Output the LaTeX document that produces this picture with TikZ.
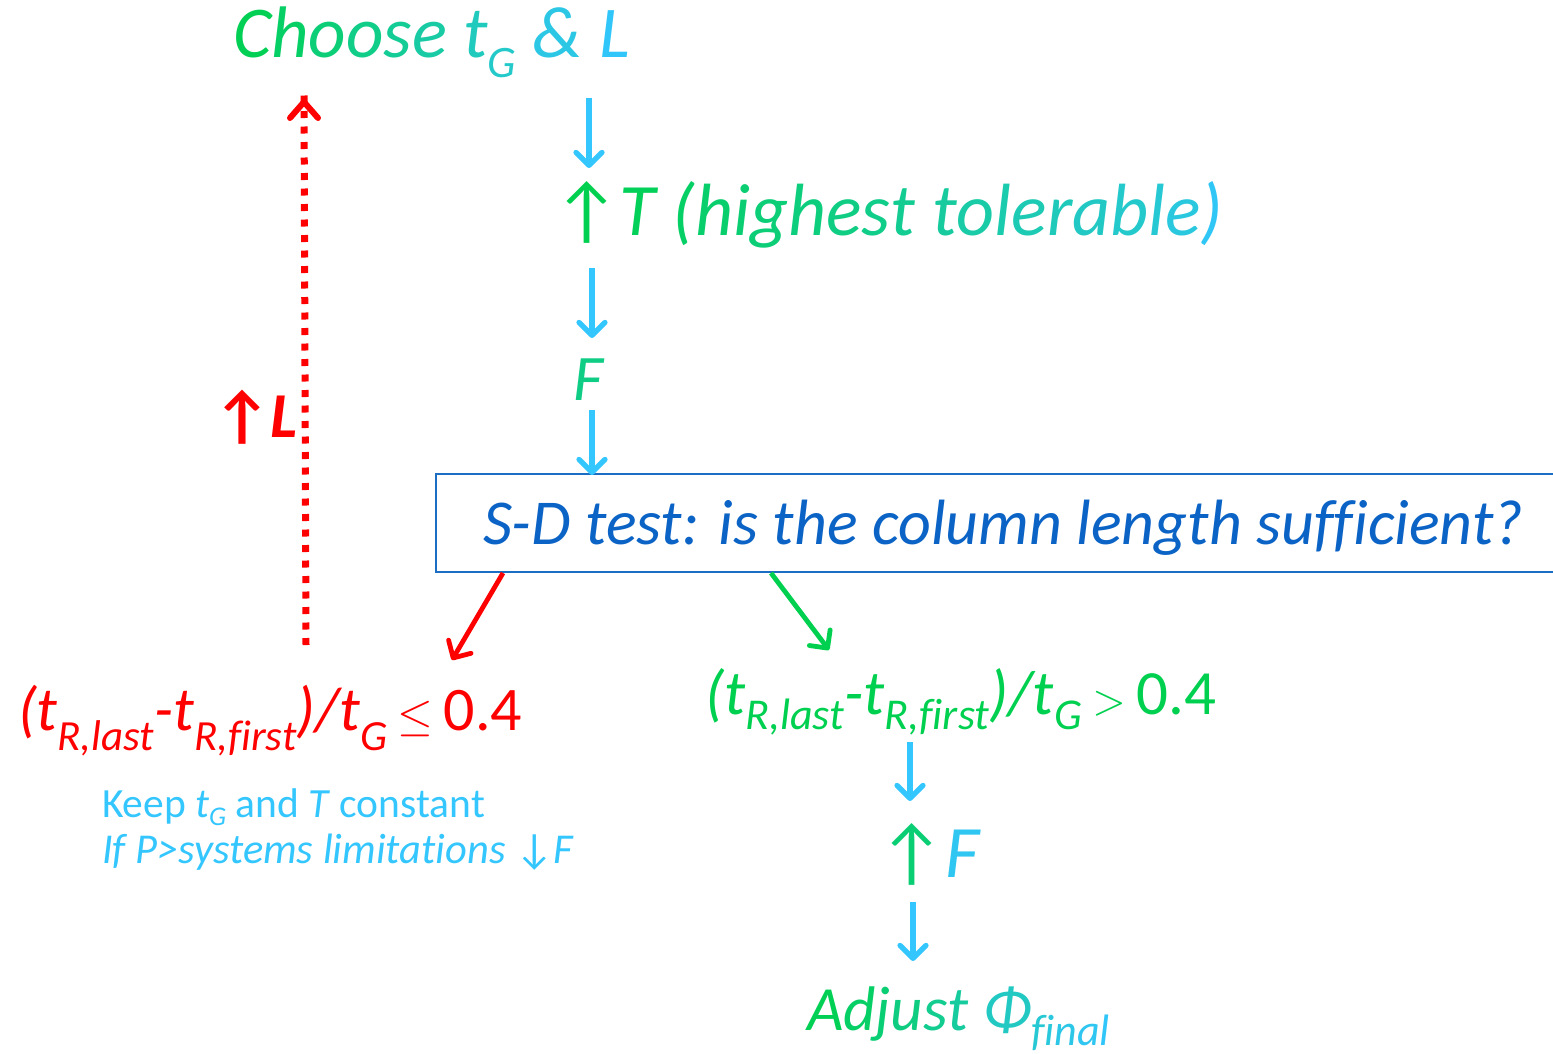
\documentclass[tikz,border=0pt]{standalone}
\usepackage{fontspec}
\setmainfont[Ligatures=NoCommon]{Carlito}
\usetikzlibrary{arrows.meta}
\definecolor{gr}{HTML}{00D050}
\definecolor{cy}{HTML}{33C6FF}
\definecolor{rd}{HTML}{FF0000}
\definecolor{bxt}{HTML}{0B63C6}
\definecolor{bxl}{HTML}{1C6DC4}
\newcommand\gq[2]{\textcolor{gr!#1!cy}{#2}}
\newcommand\subx[3]{\raisebox{-#1pt}{\fontsize{#2}{#2}\selectfont #3}}
\newcommand\fs[1]{\fontsize{#1}{#1}\selectfont}
\newcommand\uparr{{\upshape ↑}}
\newcommand\dnarr{{\upshape ↓}}
\newcommand\bigleq{\scalebox{4.6}{\fontsize{10}{12}\selectfont$\leq$}}
\newcommand\biggt{\scalebox{4.3}{\fontsize{10}{12}\selectfont$>$}}
\begin{document}
\begin{tikzpicture}[x=1pt,y=-1pt,
  txt/.style={anchor=base west, inner sep=0pt, outer sep=0pt},
  barb/.style={-{Straight Barb[length=13pt,width=26pt,line cap=round,line join=round]}},
  barrow/.style={draw=cy, line width=5.2pt, barb},
  rarrow/.style={draw=rd, line width=4.8pt, barb},
  garrow/.style={draw=gr, line width=4.8pt, barb}]
\useasboundingbox[fill=white] (0,0) rectangle (1553,1054);

% top
\node[txt] (choose) at (233,58) {\fs{73}\itshape\gq{97}{C}\gq{88}{h}\gq{78}{o}\gq{68}{o}\gq{60}{s}\gq{52}{e} \gq{38}{t}\subx{20}{45}{\gq{30}{G}} \gq{15}{\&} \gq{3}{L}};

\node[txt] (tnode) at (553,235) {\fs{74}\itshape\gq{100}{\uparr}\gq{95}{T} \gq{88}{(}\gq{84}{h}\gq{81}{i}\gq{78}{g}\gq{75}{h}\gq{71}{e}\gq{67}{s}\gq{63}{t} \gq{55}{t}\gq{51}{o}\gq{47}{l}\gq{43}{e}\gq{39}{r}\gq{34}{a}\gq{29}{b}\gq{25}{l}\gq{19}{e}\gq{5}{)}};

\node[txt] (fnode) at (573,400) {\fs{65}\itshape\gq{70}{F}};

% box
\draw[bxl, line width=2pt] (1560,474) -- (436,474) -- (436,572) -- (1560,572);
\node[txt, text=bxt] (box) at (483,544) {\fs{64}\itshape S-D test: is the column length sufficient?};

% blue connectors
\coordinate (a1s) at (589,98);  \coordinate (a1e) at (589,168);
\coordinate (a2s) at (592,268); \coordinate (a2e) at (592,338);
\coordinate (a3s) at (592,410); \coordinate (a3e) at (592,475);
\draw[barrow] (a1s) -- (a1e);
\draw[barrow] (a2s) -- (a2e);
\draw[barrow] (a3s) -- (a3e);

% branch arrows
\coordinate (rs) at (503,573); \coordinate (re) at (452,660);
\coordinate (gs) at (771,573); \coordinate (ge) at (829,650);
\draw[rarrow] (rs) -- (re);
\draw[garrow] (gs) -- (ge);

% red result
\node[txt, text=rd] (red) at (18,730) {\fs{62}\itshape (t\subx{20}{43}{R,last}-t\subx{20}{43}{R,first})/t\subx{20}{43}{G}\,\upshape\bigleq\,0.4};

\node[txt, text=cy] (keep) at (102,817) {\fs{41.5}Keep \textit{t\subx{8}{27}{G}} and \textit{T} constant};
\node[txt, text=cy] (ifp) at (102,863) {\fs{42.5}\itshape If P>systems limitations \dnarr F};

% red loop
\coordinate (ds) at (306,645); \coordinate (de) at (304,102);
\draw[draw=rd, line width=7pt, dash pattern=on 7pt off 8.5pt] (ds) -- ([yshift=10pt]de);
\draw[draw=rd, line width=6pt, line cap=round, line join=round] (290,118) -- (de) -- (318,118);
\node[txt, text=rd] (upl) at (213,437) {\fs{64}\bfseries\itshape \uparr L};

% green result
\node[txt, text=gr] (green) at (705,714) {\fs{63}\itshape (t\subx{15}{44}{R,last}-t\subx{15}{44}{R,first})/t\subx{15}{44}{G}\,\upshape\biggt\,0.4};

\coordinate (a4s) at (910,742); \coordinate (a4e) at (910,801);
\draw[barrow] (a4s) -- (a4e);
\node[txt] (upf) at (878,877) {\fs{74}\itshape\gq{80}{\uparr}\gq{8}{F}};
\coordinate (a5s) at (913,902); \coordinate (a5e) at (913,961);
\draw[barrow] (a5s) -- (a5e);
\node[txt] (adj) at (807,1030) {\fs{63}\itshape\gq{97}{A}\gq{88}{d}\gq{80}{j}\gq{72}{u}\gq{64}{s}\gq{56}{t} \gq{35}{Φ}\subx{15}{44}{\gq{25}{f}\gq{20}{i}\gq{14}{n}\gq{8}{a}\gq{3}{l}}};
\end{tikzpicture}
\end{document}
